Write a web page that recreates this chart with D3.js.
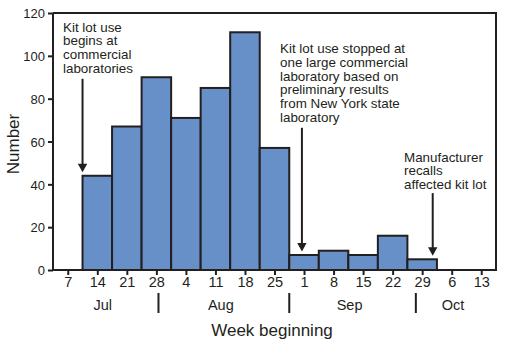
<!DOCTYPE html>
<html>
<head>
<meta charset="utf-8">
<script src="https://cdn.jsdelivr.net/npm/d3@7"></script>
<style>
  html, body { margin: 0; padding: 0; background: #fff; }
  svg { display: block; font-family: "Liberation Sans", Arial, Helvetica, sans-serif; }
</style>
</head>
<body>
<svg id="chart" width="514" height="344"></svg>
<script>
// ---- data ----
const weekStarts = ["2003-07-07","2003-07-14","2003-07-21","2003-07-28","2003-08-04","2003-08-11","2003-08-18","2003-08-25","2003-09-01","2003-09-08","2003-09-15","2003-09-22","2003-09-29","2003-10-06","2003-10-13"];
const tickLabels = ["7","14","21","28","4","11","18","25","1","8","15","22","29","6","13"];
const counts     = [0, 44, 67, 90, 71, 85, 111, 57, 7, 9, 7, 16, 5, 0, 0];
const yTicks     = [0, 20, 40, 60, 80, 100, 120];
const monthLabels = ["Jul", "Aug", "Sep", "Oct"];
const monthStarts = ["2003-08-01", "2003-09-01", "2003-10-01"];
const annotations = [
  { lines: ["Kit lot use", "begins at", "commercial", "laboratories"], date: "2003-07-14", week: 1 },
  { lines: ["Kit lot use stopped at", "one large commercial", "laboratory based on", "preliminary results", "from New York state", "laboratory"], date: "2003-09-04", week: 8 },
  { lines: ["Manufacturer", "recalls", "affected kit lot"], date: "2003-10-05", week: 12 }
];

// ---- layout ----
const parse = d3.timeParse("%Y-%m-%d");
const svg = d3.select("#chart");
const pLeft = 53, pRight = 496, pTop = 13, pBottom = 270;
const ink = "#231f20";
const fill = "#6790c8";

const x = d3.scaleTime()
  .domain([parse("2003-07-07"), parse("2003-10-20")])
  .range([pLeft, pRight]);
const y = d3.scaleLinear().domain([0, 120]).range([pBottom, pTop]);
const day = 864e5;

// bars
svg.append("g").selectAll("rect")
  .data(counts.map((c, i) => ({ c, d: parse(weekStarts[i]) })).filter(o => o.c > 0))
  .join("rect")
  .attr("x", o => x(o.d))
  .attr("width", o => x(new Date(+o.d + 7 * day)) - x(o.d))
  .attr("y", o => y(o.c))
  .attr("height", o => y(0) - y(o.c))
  .attr("fill", fill)
  .attr("stroke", ink)
  .attr("stroke-width", 2);

// frame (top/right)
svg.append("path")
  .attr("d", `M${pLeft},${pTop}H${pRight}V${pBottom}`)
  .attr("fill", "none").attr("stroke", ink).attr("stroke-width", 2);

// y axis
const yAxis = d3.axisLeft(y).tickValues(yTicks).tickSize(5).tickPadding(3);
const gy = svg.append("g").attr("transform", `translate(${pLeft},0)`).call(yAxis);
gy.select(".domain").attr("stroke", ink).attr("stroke-width", 2).attr("d", `M0,${pTop}V${pBottom}`);
gy.selectAll(".tick line").attr("stroke", ink).attr("stroke-width", 2);
gy.selectAll(".tick text").attr("fill", ink).style("font-size", "13px").attr("dy", "0.36em");

// x axis (band centres)
const centres = weekStarts.map(s => new Date(+parse(s) + 3.5 * day));
const xAxis = d3.axisBottom(x).tickValues(centres)
  .tickFormat((d, i) => tickLabels[i]).tickSize(5).tickPadding(2);
const gx = svg.append("g").attr("transform", `translate(0,${pBottom})`).call(xAxis);
gx.select(".domain").attr("stroke", ink).attr("stroke-width", 2).attr("d", `M${pLeft - 1},0H${pRight + 1}`);
gx.selectAll(".tick line").attr("stroke", ink).attr("stroke-width", 2);
gx.selectAll(".tick text").attr("fill", ink).style("font-size", "14.5px");

// month separators
svg.append("g").selectAll("line")
  .data(monthStarts.map(parse))
  .join("line")
  .attr("x1", d => x(d)).attr("x2", d => x(d))
  .attr("y1", 293).attr("y2", 313)
  .attr("stroke", ink).attr("stroke-width", 2);

// month labels
const bounds = [x.range()[0], ...monthStarts.map(s => x(parse(s))), x.range()[1]];
svg.append("g").selectAll("text")
  .data(monthLabels)
  .join("text")
  .attr("x", (m, i) => (bounds[i] + bounds[i + 1]) / 2 - 3)
  .attr("y", 310)
  .attr("text-anchor", "middle")
  .attr("fill", ink)
  .style("font-size", "14.5px")
  .text(m => m);

// axis titles
svg.append("text")
  .attr("x", 272).attr("y", 336)
  .attr("text-anchor", "middle").attr("fill", ink)
  .style("font-size", "17px")
  .text("Week beginning");
svg.append("text")
  .attr("transform", "translate(19,144) rotate(-90)")
  .attr("text-anchor", "middle").attr("fill", ink)
  .style("font-size", "17px")
  .text("Number");

// annotations
const textPos = [[63, 26.7], [280, 48.3], [404, 156.7]];
const lineH = 13.7;
annotations.forEach((a, k) => {
  const [tx, ty] = textPos[k];
  const t = svg.append("text").attr("fill", ink).style("font-size", "13.4px");
  a.lines.forEach((ln, j) => {
    t.append("tspan").attr("x", tx).attr("y", ty + 5 + j * lineH).text(ln);
  });
  const ax = x(parse(a.date));
  const y0 = ty + (a.lines.length - 1) * lineH + (k === 2 ? 9 : 11);
  const tipY = y(counts[a.week]) - 3.5;
  svg.append("line")
    .attr("x1", ax).attr("x2", ax).attr("y1", y0).attr("y2", tipY - 6)
    .attr("stroke", ink).attr("stroke-width", 2);
  svg.append("path")
    .attr("d", `M${ax - 4.7},${tipY - 8.5}L${ax + 4.7},${tipY - 8.5}L${ax},${tipY}Z`)
    .attr("fill", ink);
});
</script>
</body>
</html>
